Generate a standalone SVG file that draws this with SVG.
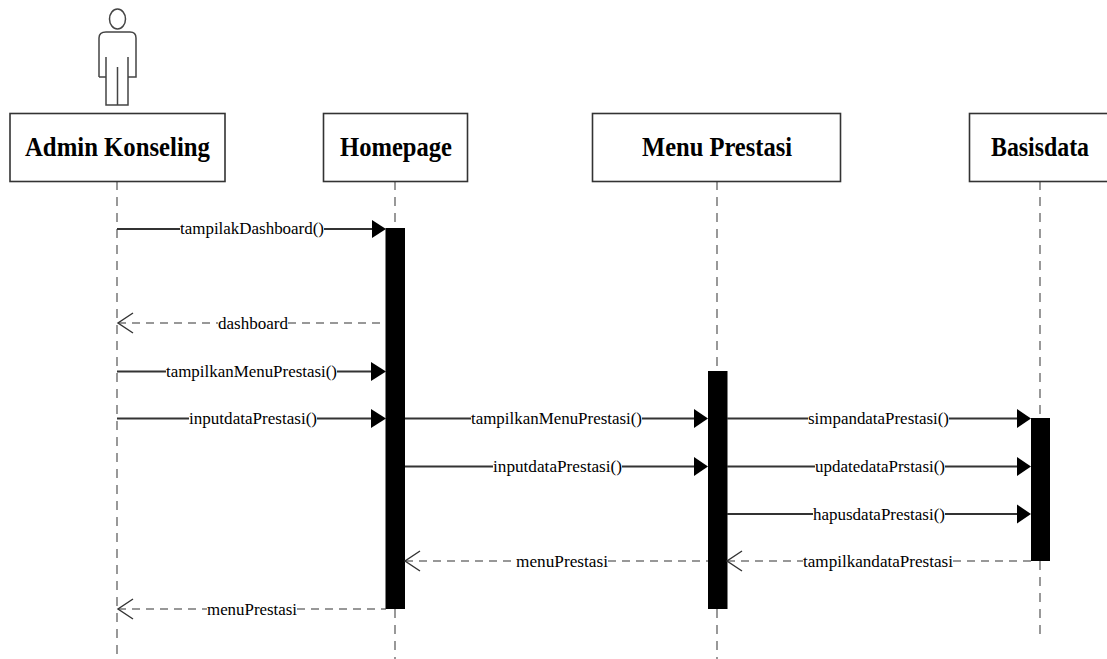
<svg xmlns="http://www.w3.org/2000/svg" width="1107" height="659" viewBox="0 0 1107 659">
<style>
text{font-family:"Liberation Serif","Times New Roman",serif;fill:#000}
.box{fill:#fff;stroke:#333;stroke-width:1.6}
.title{font-size:27px;font-weight:bold;text-anchor:middle}
.life{stroke:#555;stroke-width:1.2;stroke-dasharray:9 7;fill:none}
.act{fill:#000}
.msg{stroke:#333;stroke-width:2;fill:none}
.ret{stroke:#333;stroke-width:1.2;stroke-dasharray:8 6;fill:none}
.lbl{font-size:17px}
.head{fill:#000}
.open{fill:none;stroke:#333;stroke-width:1.4}
.actor{fill:none;stroke:#444;stroke-width:1.5}
</style>
<g id="lifelines">
<path class="life" d="M117 181V659"/>
<path class="life" d="M395 181V228M395 609V659"/>
<path class="life" d="M717 181V371M717 609V659"/>
<path class="life" d="M1040 181V418M1040 561V636"/>
</g>
<g id="actor">
<ellipse class="actor" cx="117.500" cy="19" rx="8" ry="10"/>
<path class="actor" d="M106 32H130Q136 32 136 38V77H127.500M106 57V105H128V57M99 77V38Q99 32 106 32M99 77H106M117.500 67V105"/>
</g>
<g id="node-admin"><rect class="box" x="10" y="113.500" width="215" height="68"/><text class="title" x="117.500" y="156" textLength="185" lengthAdjust="spacingAndGlyphs">Admin Konseling</text></g>
<g id="node-homepage"><rect class="box" x="323.500" y="113.500" width="144" height="68"/><text class="title" x="396" y="156" textLength="112" lengthAdjust="spacingAndGlyphs">Homepage</text></g>
<g id="node-menu"><rect class="box" x="592.500" y="113.500" width="248" height="68"/><text class="title" x="717" y="156" textLength="150" lengthAdjust="spacingAndGlyphs">Menu Prestasi</text></g>
<g id="node-basisdata"><rect class="box" x="969.500" y="113.500" width="140" height="68"/><text class="title" x="1040" y="156" textLength="98" lengthAdjust="spacingAndGlyphs">Basisdata</text></g>
<g id="activations">
<rect class="act" x="385.500" y="228" width="19.500" height="381"/>
<rect class="act" x="708" y="371" width="19.500" height="238"/>
<rect class="act" x="1031" y="418" width="19" height="143"/>
</g>
<g id="connectors">
<path class="msg" d="M117 229H180M324 229H372"/><path class="head" d="M372 220L386 229L372 238Z"/>
<path class="ret" d="M118 323H218M288 323H386"/><path class="open" d="M133 313L118 323L133 333"/>
<path class="msg" d="M117 371.500H166M337 371.500H372"/><path class="head" d="M371 362L386 371.500L371 381Z"/>
<path class="msg" d="M117 418.500H189M317 418.500H372"/><path class="head" d="M371 409L386 418.500L371 428Z"/>
<path class="msg" d="M405 418.500H471M642 418.500H695"/><path class="head" d="M694 409L708 418.500L694 428Z"/>
<path class="msg" d="M405 466.500H493M622 466.500H695"/><path class="head" d="M694 457L708 466.500L694 476Z"/>
<path class="msg" d="M727 418.500H808M949 418.500H1018"/><path class="head" d="M1017 409L1031 418.500L1017 428Z"/>
<path class="msg" d="M727 466.500H815M945 466.500H1018"/><path class="head" d="M1017 457L1031 466.500L1017 476Z"/>
<path class="msg" d="M727 514H813M945 514H1018"/><path class="head" d="M1017 504.500L1031 514L1017 523.500Z"/>
<path class="ret" d="M405 561H516M608 561H708"/><path class="open" d="M420 551L405 561L420 571"/>
<path class="ret" d="M727 561H803M953 561H1031"/><path class="open" d="M742 551L727 561L742 571"/>
<path class="ret" d="M118 609H207M297 609H386"/><path class="open" d="M133 599L118 609L133 619"/>
</g>
<g id="labels">
<text class="lbl" x="180" y="234" textLength="144" lengthAdjust="spacingAndGlyphs">tampilakDashboard()</text>
<text class="lbl" x="218" y="329" textLength="70" lengthAdjust="spacingAndGlyphs">dashboard</text>
<text class="lbl" x="166" y="377" textLength="171" lengthAdjust="spacingAndGlyphs">tampilkanMenuPrestasi()</text>
<text class="lbl" x="189" y="424" textLength="128" lengthAdjust="spacingAndGlyphs">inputdataPrestasi()</text>
<text class="lbl" x="471" y="424" textLength="171" lengthAdjust="spacingAndGlyphs">tampilkanMenuPrestasi()</text>
<text class="lbl" x="493" y="472" textLength="129" lengthAdjust="spacingAndGlyphs">inputdataPrestasi()</text>
<text class="lbl" x="516" y="567" textLength="92" lengthAdjust="spacingAndGlyphs">menuPrestasi</text>
<text class="lbl" x="207" y="615" textLength="90" lengthAdjust="spacingAndGlyphs">menuPrestasi</text>
<text class="lbl" x="808" y="424" textLength="141" lengthAdjust="spacingAndGlyphs">simpandataPrestasi()</text>
<text class="lbl" x="815" y="472" textLength="130" lengthAdjust="spacingAndGlyphs">updatedataPrstasi()</text>
<text class="lbl" x="813" y="520" textLength="132" lengthAdjust="spacingAndGlyphs">hapusdataPrestasi()</text>
<text class="lbl" x="803" y="567" textLength="150" lengthAdjust="spacingAndGlyphs">tampilkandataPrestasi</text>
</g>
</svg>
